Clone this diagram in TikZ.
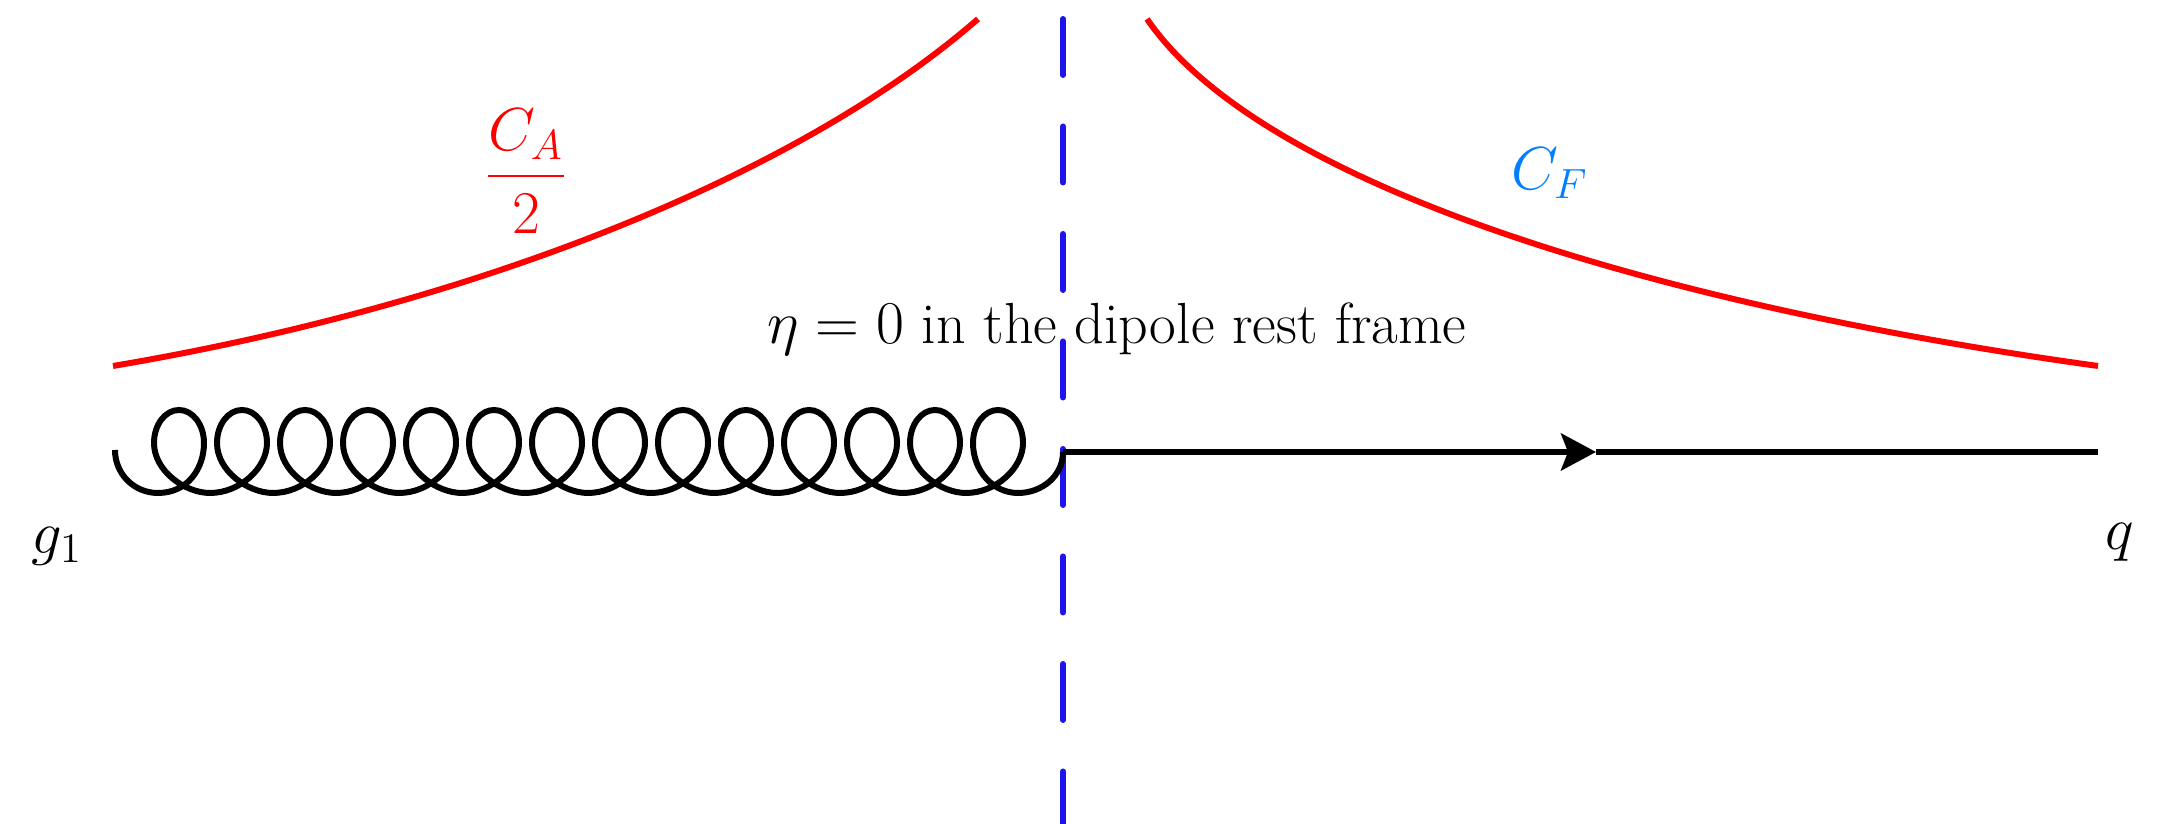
\documentclass[tikz,border=0pt]{standalone}
\usepackage{xcolor}
\usepackage{amsmath}
\usetikzlibrary{arrows.meta}
\definecolor{cutblue}{RGB}{30, 20, 235}
\definecolor{labelblue}{RGB}{0, 128, 255}
\tikzset{
  % Gluon line
  gluon/.style={line width=1.7pt, black},
  % Quark line
  quark/.style={line width=1.7pt, black},
  quarkarr/.style={-{Stealth[length=0.35cm, width=0.37cm, inset=0.07cm]}, line width=1.7pt, black},
  % Colour factor curve
  factor/.style={line width=1.7pt, red},
  % Cut
  cut/.style={line width=1.7pt, cutblue, line cap=round, dash pattern=on 0.56cm off 0.515cm},
  lab/.style={font=\fontsize{16.5}{20}\selectfont, inner sep=0pt},
}
% One turn of the gluon, from the bottom of an arc to the next one
\newcommand{\gluonturn}[2]{%
  .. controls +(.30,0) and +(0,-.25) .. ++(#1,.50)
  .. controls +(0,.18) and +(.14,0) .. ++(-.25,.33)
  .. controls +(-.14,0) and +(0,.18) .. ++(-.25,-.33)
  .. controls +(0,-.28) and +(-.25,0) .. ++(#2,-.50)}
\begin{document}
\begin{tikzpicture}
  \useasboundingbox (0,0) rectangle (21.57,8.24);
  \coordinate (gstart) at (1.15,3.74);
  \coordinate (vertex) at (10.63,3.72);
  \coordinate (qmid)   at (15.96,3.72);
  \coordinate (qend)   at (20.98,3.72);
  \coordinate (cuttop) at (10.63,8.05);
  \coordinate (cutbot) at (10.63,0);
  \coordinate (ltop)   at (9.78,8.05);
  \coordinate (lbot)   at (1.13,4.58);
  \coordinate (rtop)   at (11.47,8.05);
  \coordinate (rbot)   at (20.98,4.58);
  \draw[factor] (lbot) .. controls (4.8,5.2) and (8,6.5) .. (ltop);
  \draw[factor] (rtop) .. controls (12.6,6.4) and (16.5,5.2) .. (rbot);
  \draw[cut] (cuttop) -- (cutbot);
  \draw[gluon] (gstart) .. controls +(0,-.24) and +(-.24,0) .. ++(.43,-.43)
    \gluonturn{.46}{.56}
    \foreach \i in {1,...,12} { \gluonturn{.57}{.56} }
    \gluonturn{.57}{.45}
    .. controls +(.24,0) and +(0,-.24) .. (vertex);
  \draw[quarkarr] (vertex) -- (qmid);
  \draw[quark] (qmid) -- (qend);
  \node[lab, red] (ca) at (5.26,6.53) {$\dfrac{C_A}{2}$};
  \node[lab, labelblue] (cf) at (15.5,6.51) {$C_F$};
  \node[lab] (eta) at (11.17,4.95) {$\eta=0$ in the dipole rest frame};
  \node[lab] (g1) at (0.57,2.78) {$g_1$};
  \node[lab] (q) at (21.2,2.82) {$q$};
\end{tikzpicture}
\end{document}
